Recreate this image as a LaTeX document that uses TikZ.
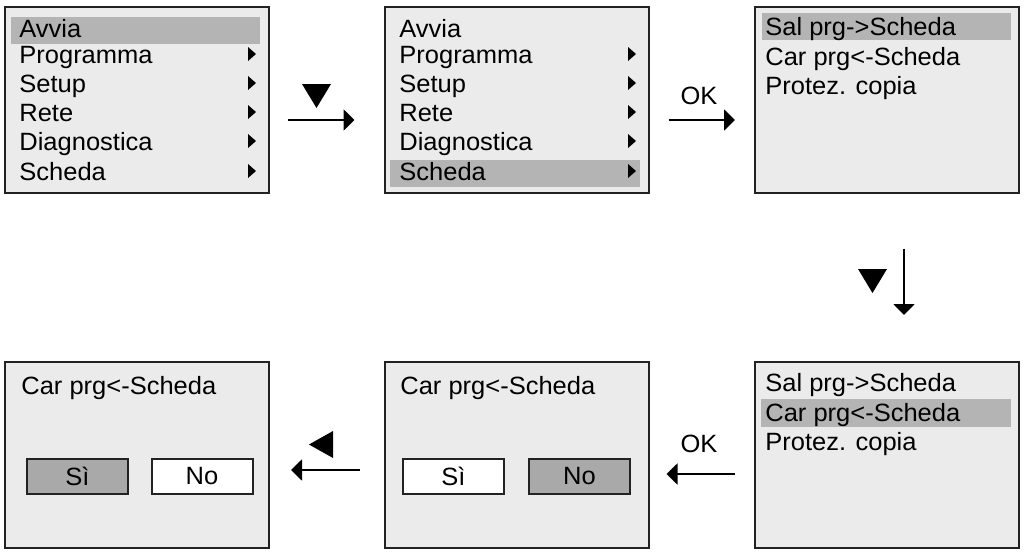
\documentclass[tikz,border=0pt]{standalone}
\usepackage{fontspec}
\setmainfont{Liberation Sans}[FakeStretch=1.02]
\usetikzlibrary{arrows.meta}
\definecolor{lcdbg}{HTML}{EBEBEB}
\definecolor{lcdsel}{HTML}{B4B4B4}
\definecolor{lcdbtn}{HTML}{A9A9A9}
\definecolor{lcdline}{HTML}{222222}
\begin{document}
\begin{tikzpicture}[x=0.5pt,y=-0.5pt,
  font=\fontsize{12.5}{14}\selectfont,
  screen/.style={draw=lcdline,line width=1pt,fill=lcdbg,minimum width=132pt,minimum height=93pt,inner sep=0pt},
  sel/.style={fill=lcdsel},
  txt/.style={anchor=base west,inner sep=0pt},
  btn/.style={draw=lcdline,line width=1pt,fill=white,minimum width=50.5pt,minimum height=17.5pt,inner sep=0pt},
  btnon/.style={btn,fill=lcdbtn},
  flow/.style={line width=1pt,-{Triangle[length=5.5pt,width=10.5pt]}}]
\useasboundingbox (0,0) rectangle (1024,552);

% screens
\node[screen] (b1) at (137,99.5) {};
\node[screen] (b2) at (516.5,99.5) {};
\node[screen] (b3) at (887,99.5) {};
\node[screen] (b4) at (887,455) {};
\node[screen] (b5) at (516.5,455) {};
\node[screen] (b6) at (137,455) {};

% main menu, twice
\fill[sel] (11,17) rectangle (260,44);
\fill[sel] (390,160) rectangle (640,187);
\foreach \s/\dx in {1/0,2/380} {
  \node[txt] (m\s-0) at (19+\dx,37) {Avvia};
  \foreach \t/\y [count=\i] in {Programma/63,Setup/92,Rete/121,Diagnostica/150,Scheda/180} {
    \node[txt] (m\s-\i) at (19+\dx,\y) {\t};
    \fill (248+\dx,\y-16) -- ++(8,7) -- ++(-8,7) -- cycle;
  }
}

% card menu
\fill[sel] (762,13) rectangle (1011,40);
\node[txt] (c1) at (765,35) {Sal prg->Scheda};
\node[txt] (c2) at (765,65) {Car prg<-Scheda};
\node[txt] (c3) at (765,94) {Protez. copia};
\fill[sel] (761,399) rectangle (1011,427);
\node[txt] (d1) at (765,391) {Sal prg->Scheda};
\node[txt] (d2) at (765,421) {Car prg<-Scheda};
\node[txt] (d3) at (765,450) {Protez. copia};

% yes/no screens
\node[txt] (q5) at (400,394) {Car prg<-Scheda};
\node[btn] (y5) at (453.5,476.5) {Sì};
\node[btnon] (n5) at (579.5,476.5) {No};
\node[txt] (q6) at (21,394) {Car prg<-Scheda};
\node[btnon] (y6) at (77.5,476.5) {Sì};
\node[btn] (n6) at (202,476.5) {No};

% keys and arrows
\fill (302,84) -- (331,84) -- (316.5,108) -- cycle;
\draw[flow] ([shift={(18,20.5)}]b1.east) -- ([shift={(-29,20.5)}]b2.west);
\node (ok1) at (699,96) {OK};
\draw[flow] ([shift={(19,20.5)}]b2.east) -- ([shift={(-19,20.5)}]b3.west);
\fill (858,269) -- (887,269) -- (872.5,293) -- cycle;
\draw[flow] ([shift={(17,55)}]b3.south) -- ([shift={(17,-46)}]b4.north);
\node (ok2) at (699,444) {OK};
\draw[flow] ([shift={(-19,19)}]b4.west) -- ([shift={(17,19)}]b5.east);
\fill (309,444.5) -- (333,431) -- (333,458) -- cycle;
\draw[flow] ([shift={(-24,15)}]b5.west) -- ([shift={(21,15)}]b6.east);
\end{tikzpicture}
\end{document}
